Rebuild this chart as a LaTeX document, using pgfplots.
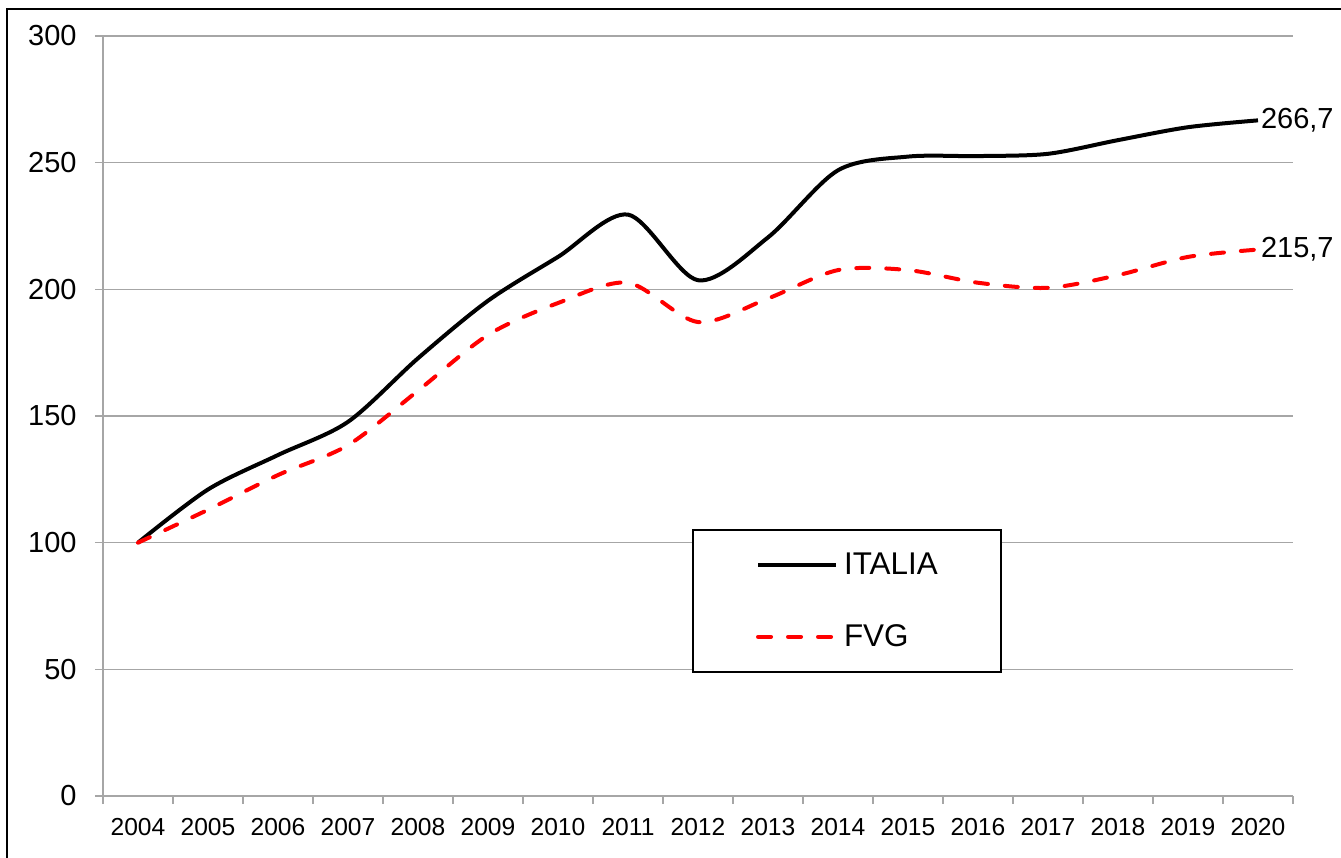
\documentclass[border=0pt]{standalone}
\usepackage{pgfplots}
\pgfplotsset{compat=1.18}
\usepackage{fontspec}
\setmainfont{Liberation Sans}
\definecolor{gridgray}{HTML}{A6A6A6}
\begin{document}
\begin{tikzpicture}
\useasboundingbox (0,0) rectangle (670.5pt,-429pt);
\draw[line width=1.1pt] (3.5pt,-429pt) -- (3.5pt,-4.3pt) -- (670.5pt,-4.3pt);
\begin{axis}[
  at={(51.5pt,-398pt)}, anchor=south west,
  scale only axis, width=595pt, height=380pt,
  xmin=-0.5, xmax=16.5, ymin=0, ymax=300,
  axis lines*=left,
  axis line style={gridgray, line width=0.75pt},
  tick style={gridgray, line width=0.75pt},
  tick align=outside,
  major tick length=4pt,
  ytick={0,50,100,150,200,250,300},
  ymajorgrids, major grid style={gridgray, line width=0.75pt},
  xtick={-0.5,0.5,1.5,2.5,3.5,4.5,5.5,6.5,7.5,8.5,9.5,10.5,11.5,12.5,13.5,14.5,15.5,16.5},
  x tick label as interval,
  xticklabels={2004,2005,2006,2007,2008,2009,2010,2011,2012,2013,2014,2015,2016,2017,2018,2019,2020},
  /pgf/number format/assume math mode=true,
  yticklabel style={font=\fontsize{14.5}{16}\selectfont, anchor=east, inner sep=0pt, xshift=-9pt},
  xticklabel style={font=\fontsize{12.3}{14}\selectfont, anchor=north, inner sep=0pt, yshift=-7pt},
  clip=false,
  legend style={at={(0.495,0.351)}, anchor=north west, draw=black, line width=1pt,
    inner xsep=31.5pt, inner ysep=11.25pt, row sep=23.5pt,
    font=\fontsize{15.7}{18}\selectfont, nodes={inner sep=0pt},
    /tikz/every odd column/.append style={column sep=3pt}},
  legend cell align=left,
  legend image code/.code={\draw[#1] (0pt,0pt) -- (39pt,0pt);},
]
\addplot[black, line width=2pt, smooth] coordinates {
 (0,100) (1,121) (2,134.6) (3,147.7) (4,172.8) (5,195.5) (6,212.8) (7,229.5)
 (8,203.6) (9,220.5) (10,247) (11,252.4) (12,252.6) (13,253.5) (14,258.9) (15,264) (16,266.7)
} node[pos=1, anchor=west, inner sep=0.5pt, text=black, font=\fontsize{14.5}{16}\selectfont] {266,7};
\addlegendentry{ITALIA}
\addplot[red, line width=2pt, smooth, dash pattern=on 6.5pt off 8.5pt, line cap=round] coordinates {
 (0,100) (1,113) (2,126.7) (3,138.5) (4,160) (5,182) (6,194.6) (7,202.6)
 (8,187.1) (9,196.4) (10,207.6) (11,207.6) (12,202.6) (13,200.6) (14,205.6) (15,212.8) (16,215.7)
} node[pos=1, anchor=west, inner sep=0.5pt, text=black, font=\fontsize{14.5}{16}\selectfont] {215,7};
\addlegendentry{FVG}
\end{axis}
\end{tikzpicture}
\end{document}
